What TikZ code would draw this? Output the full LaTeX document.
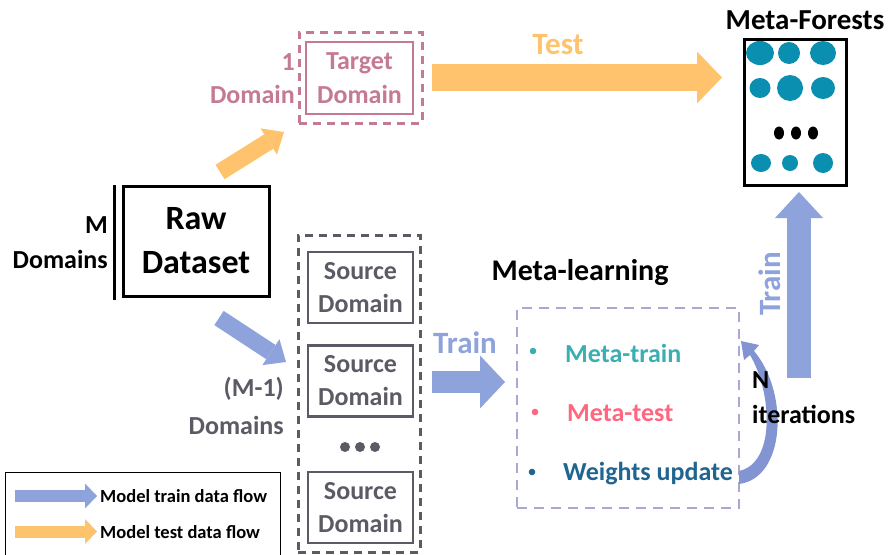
\documentclass[tikz,border=0pt]{standalone}
\usepackage{fontspec}
\setmainfont{Carlito}
\usetikzlibrary{arrows.meta}

\definecolor{trainblue}{HTML}{8EA2DC}
\definecolor{testorange}{HTML}{FFC36D}
\definecolor{targetpink}{HTML}{C47A93}
\definecolor{srcgray}{HTML}{5B5B66}
\definecolor{metagray}{HTML}{A8A8D2}
\definecolor{treeteal}{HTML}{0B8FB0}
\definecolor{mtrain}{HTML}{3AAFB2}
\definecolor{mtest}{HTML}{FF6680}
\definecolor{wupdate}{HTML}{1F6590}
\definecolor{loopblue}{HTML}{8294D2}

\tikzset{
	txt/.style 2 args={font=\bfseries\fontsize{#1}{#2}\selectfont, align=center, inner sep=0pt},
	fat/.style n args={3}{line width=#1, -{Triangle[width=#2, length=#3, line width=0pt]}},
	dashbox/.style={draw=#1, line width=3pt, dash pattern=on 8pt off 6pt, inner sep=0pt},
}

\begin{document}
\begin{tikzpicture}[x=1pt,y=-1pt]
	\useasboundingbox (0,0) rectangle (891,554);

	\node[txt={34}{44}, draw, line width=3pt, minimum width=146pt, minimum height=110pt] (raw) at (196,241) {Raw\\Dataset};
	\draw[line width=3pt] (114,185) -- (114,300);
	\node[txt={26}{35}, align=right, anchor=east] (mlabel) at (108,243) {M\\Domains};

	\node[dashbox=targetpink, minimum width=123pt, minimum height=91pt] (targetgrp) at (360.5,77.5) {};
	\node[txt={26}{34}, text=targetpink, draw=targetpink, line width=2.8pt, minimum width=107pt, minimum height=72pt] (target) at (359.5,78) {Target\\Domain};
	\node[txt={26}{33}, text=targetpink, align=right, anchor=east] (onelabel) at (295,79) {1\\Domain};

	\node[dashbox=srcgray, minimum width=122pt, minimum height=317pt] (srcgrp) at (359,393.5) {};
	\node[txt={26}{33}, text=srcgray, draw=srcgray, line width=2.8pt, minimum width=105pt, minimum height=71pt] (src1) at (360.5,287.5) {Source\\Domain};
	\node[txt={26}{33}, text=srcgray, draw=srcgray, line width=2.8pt, minimum width=105pt, minimum height=71pt] (src2) at (360.5,381) {Source\\Domain};
	\node[txt={26}{33}, text=srcgray, draw=srcgray, line width=2.8pt, minimum width=105pt, minimum height=71pt] (src3) at (360.5,507.5) {Source\\Domain};
	\foreach \x in {345,360,375}
		\fill[srcgray] (\x,447) circle (5pt);
	\node[txt={26}{38}, text=srcgray, align=right, anchor=east] (m1label) at (284,406) {(M-1)\\Domains};

	\node[txt={30}{36}] (metatitle) at (580,273) {Meta-learning};
	\node[draw=metagray, line width=2.5pt, dash pattern=on 10pt off 7pt, minimum width=222pt, minimum height=200pt] (meta) at (628,408) {};
	\fill[mtrain] (533,351) circle (3.3pt);
	\fill[mtest] (535,412) circle (3.3pt);
	\fill[wupdate] (532,472) circle (3.3pt);
	\node[txt={26}{30}, text=mtrain, anchor=west] (mtr) at (565,353) {Meta-train};
	\node[txt={26}{30}, text=mtest, anchor=west] (mte) at (567,413) {Meta-test};
	\node[txt={26}{30}, text=wupdate, anchor=west] (wup) at (563,474) {Weights update};

	\node[txt={29}{34}] (foresttitle) at (805,20) {Meta-Forests};
	\node[draw, line width=3pt, minimum width=102pt, minimum height=146pt] (forest) at (795,112) {};
	\foreach \x/\y/\rx/\ry in {760/53/14/12, 789/53/11/11, 823/53/13/12, 760/88/10.5/10, 790/88/13/13, 823/88/12/11, 761/163/10/9, 790/163/8/8, 823/163/10/10}
		\fill[treeteal] (\x,\y) ellipse [x radius=\rx pt, y radius=\ry pt];
	\foreach \x in {779,796,813}
		\fill (\x,133) ellipse [x radius=5pt, y radius=6.5pt];

	\coordinate (tgtfrom) at (220,172);
	\coordinate (tgtto) at (284,132);
	\coordinate (srcfrom) at (219,318);
	\coordinate (srcto) at (286,362);
	\coordinate (testfrom) at (432,77.5);
	\coordinate (testto) at (722,77.5);
	\coordinate (trainfrom) at (432,382);
	\coordinate (trainto) at (505,382);
	\coordinate (upfrom) at (799,378);
	\coordinate (upto) at (799,192);

	\draw[fat={17pt}{31pt}{18pt}, testorange] (tgtfrom) -- (tgtto);
	\draw[fat={17pt}{31pt}{18pt}, trainblue] (srcfrom) -- (srcto);
	\draw[fat={27pt}{52pt}{25pt}, testorange] (testfrom) -- (testto);
	\draw[fat={22pt}{53pt}{25pt}, trainblue] (trainfrom) -- (trainto);
	\draw[fat={24pt}{48pt}{26pt}, trainblue] (upfrom) -- (upto);

	\node[txt={31}{34}, text=testorange] (testlabel) at (558,45) {Test};
	\node[txt={31}{34}, text=trainblue] (trainlabel) at (465,343) {Train};
	\node[txt={31}{34}, text=trainblue, rotate=90] (uplabel) at (770,284) {Train};

	% loop back from the last step into the box
	\fill[loopblue] (739,471) .. controls (776,463) and (772,392) .. (750,355) -- (744,360) -- (741,341) -- (759,345) -- (754,351) .. controls (789,392) and (786,478) .. (739,484) -- cycle;
	\node[txt={26}{35}, align=left, anchor=west] (iterlabel) at (752,398) {N\\iterations};

	\draw[line width=1pt] (5,560) -- (5,472) -- (280,472) -- (280,560);
	\coordinate (lgtrainfrom) at (15,496);
	\coordinate (lgtrainto) at (97,496);
	\coordinate (lgtestfrom) at (15,531.5);
	\coordinate (lgtestto) at (97,531.5);
	\draw[fat={12pt}{25pt}{12pt}, trainblue] (lgtrainfrom) -- (lgtrainto);
	\draw[fat={12pt}{25pt}{12pt}, testorange] (lgtestfrom) -- (lgtestto);
	\node[txt={18.5}{20}, anchor=west] (lgtrain) at (100,496) {Model train data flow};
	\node[txt={18.5}{20}, anchor=west] (lgtest) at (100,532) {Model test data flow};
\end{tikzpicture}
\end{document}
